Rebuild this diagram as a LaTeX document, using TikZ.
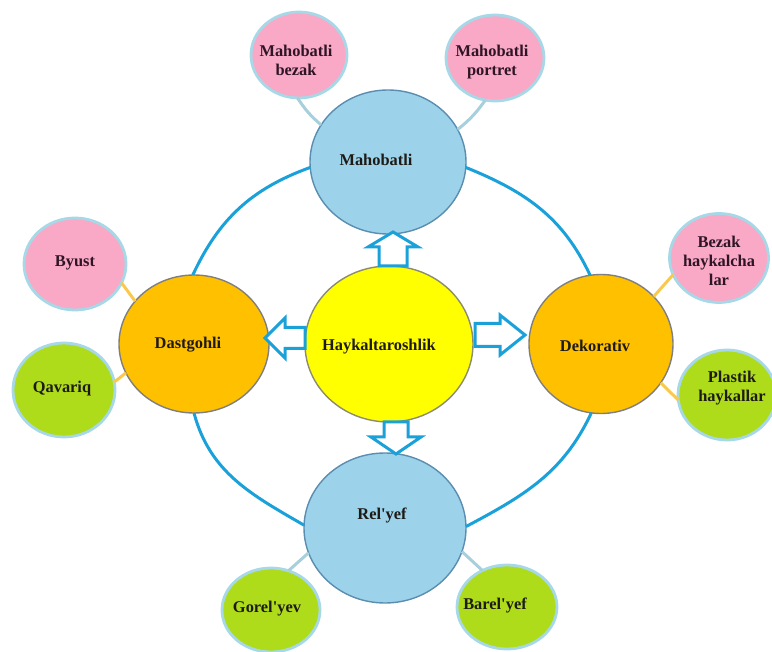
\documentclass[tikz,border=0pt]{standalone}
\usepackage{fontspec}
\setmainfont{Liberation Serif}
\usetikzlibrary{shapes.geometric,calc}
\definecolor{ringblue}{HTML}{1BA1DA}
\definecolor{cyellow}{HTML}{FFFF00}
\definecolor{cyellowb}{HTML}{8C8C6E}
\definecolor{cblue}{HTML}{9CD3EA}
\definecolor{cblueb}{HTML}{5B8DB0}
\definecolor{corange}{HTML}{FFC000}
\definecolor{corangeb}{HTML}{7F7F7F}
\definecolor{cpink}{HTML}{F9A9C5}
\definecolor{cgreen}{HTML}{AEDC1A}
\definecolor{csmallb}{HTML}{A6D8E8}
\definecolor{linkblue}{HTML}{A8D0DC}
\definecolor{linkorange}{HTML}{F9C94E}
\definecolor{txt}{HTML}{1E1A16}
\definecolor{txtpink}{HTML}{2E1424}
\tikzset{
  circ/.style={ellipse, inner sep=0pt, outer sep=0pt},
  sz/.style 2 args={minimum width=#1*0.5pt, minimum height=#2*0.5pt},
  bigyellow/.style={circ, fill=cyellow, draw=cyellowb, line width=0.7pt},
  bigblue/.style={circ, fill=cblue, draw=cblueb, line width=0.7pt},
  bigorange/.style={circ, fill=corange, draw=corangeb, line width=0.7pt},
  smallpink/.style={circ, fill=cpink, draw=csmallb, line width=1.4pt},
  smallgreen/.style={circ, fill=cgreen, draw=csmallb, line width=1.4pt},
  lbl/.style={font=\bfseries\fontsize{8.2}{9.4}\selectfont, text=txt, align=center, inner sep=0pt},
  lblpink/.style={lbl, text=txtpink},
  ring/.style={draw=ringblue, line width=1.5pt},
  linkb/.style={draw=linkblue, line width=1.5pt},
  linko/.style={draw=linkorange, line width=1.5pt},
  arrowline/.style={draw=ringblue, fill=white, line width=1.5pt, line join=miter},
  pics/barrow/.style n args={4}{code={
    \path[arrowline] (0,-#3) -- (#1-#2,-#3) -- (#1-#2,-#4) -- (#1,0) -- (#1-#2,#4) -- (#1-#2,#3) -- (0,#3) -- cycle;
  }}
}
\begin{document}
\begin{tikzpicture}[x=0.5pt,y=-0.5pt]
\useasboundingbox (0,0) rectangle (772,652);
% main circles
\node[bigyellow, sz={168}{156}] (hay) at (389,344) {};
\node[bigblue, sz={156}{144}] (mah) at (388,162) {};
\node[bigblue, sz={162}{150}] (rel) at (385,528) {};
\node[bigorange, sz={150}{138}] (dast) at (194,344) {};
\node[bigorange, sz={144}{139}] (dek) at (601,344) {};
% small circles
\node[smallpink, sz={96}{86}] (mbez) at (299,55) {};
\node[smallpink, sz={98}{86}] (mpor) at (495,58) {};
\node[smallpink, sz={102}{92}] (byust) at (75,264) {};
\node[smallgreen, sz={102}{94}] (qav) at (64,390) {};
\node[smallpink, sz={99}{89}] (bezh) at (719,258) {};
\node[smallgreen, sz={98}{90}] (plast) at (727,395) {};
\node[smallgreen, sz={98}{84}] (gor) at (271,610) {};
\node[smallgreen, sz={100}{84}] (bar) at (507,607) {};
% ring arcs
\draw[ring] (mah.184) to[out=200,in=65] (dast.91);
\draw[ring] (dast.270) to[out=-75,in=150] (rel.178);
\draw[ring] (rel.1) to[out=28,in=245] (dek.262);
\draw[ring] (dek.99) to[out=115,in=-22] (mah.356);
% links to small circles
\draw[linkb] (mah.151) to[bend left=8] (mbez.268);
\draw[linkb] (mah.25) to[bend right=8] (mpor.257);
\draw[linko] (dast.144) -- (byust.338);
\draw[linko] (dast.203) -- (qav.9);
\draw[linko] (dek.42) -- (bezh.200);
\draw[linko] (dek.327) -- (plast.186);
\draw[linkb] (rel.198) -- (gor.66);
\draw[linkb] (rel.343) -- (bar.124);
% block arrows
\pic[rotate=90] at (393,266) {barrow={34}{15}{14}{25}};
\pic at (475,335) {barrow={50}{25}{11.5}{20}};
\pic[rotate=180] at (305,338) {barrow={40}{20}{10.5}{20}};
\pic[rotate=-90] at (396,422) {barrow={32}{17}{12}{25}};
% labels
\node[lbl] (hayT) at (379,347) {Haykaltaroshlik};
\node[lbl] (mahT) at (376,160) {Mahobatli};
\node[lbl] (relT) at (382,515) {Rel\textquotesingle yef};
\node[lbl] (dastT) at (188,345) {Dastgohli};
\node[lbl] (dekT) at (595,346) {Dekorativ};
\node[lblpink] (mbezT) at (296,60) {Mahobatli\\bezak};
\node[lblpink] (mporT) at (492,62) {Mahobatli\\portret};
\node[lblpink] (byustT) at (75,263) {Byust};
\node[lbl] (qavT) at (62,389) {Qavariq};
\node[lblpink] (bezhT) at (719,261) {Bezak\\haykalcha\\lar};
\node[lbl] (plastT) at (732,388) {Plastik\\haykallar};
\node[lbl] (gorT) at (267,609) {Gorel\textquotesingle yev};
\node[lbl] (barT) at (495,605) {Barel\textquotesingle yef};
\end{tikzpicture}
\end{document}
